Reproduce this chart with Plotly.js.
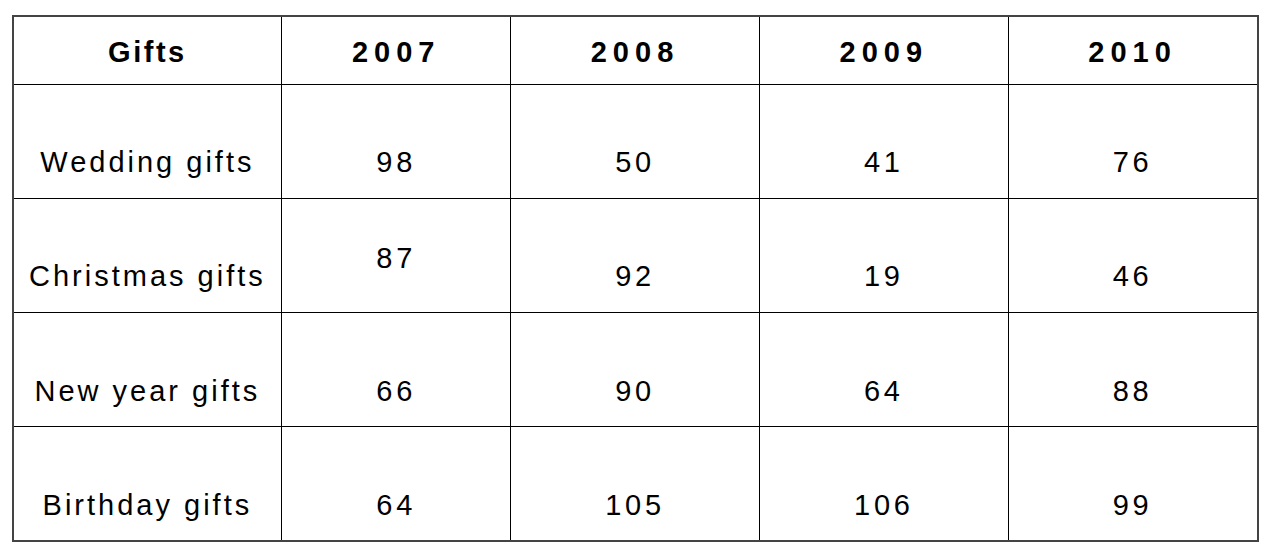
<!DOCTYPE html>
<html>
<head>
<meta charset="utf-8">
<script src="https://cdn.plot.ly/plotly-3.0.1.min.js"></script>
<style>
  html, body { margin: 0; padding: 0; background: #fff; }
  #chart { width: 1277px; height: 560px; }
</style>
</head>
<body>
<div id="chart"></div>
<script>
// ---- data ----
var headerLabels = ['Gifts', '2007', '2008', '2009', '2010'];
var giftTypes = ['Wedding gifts', 'Christmas gifts', 'New year gifts', 'Birthday gifts'];
var values2007 = [98, 87, 66, 64];
var values2008 = [50, 92, 90, 105];
var values2009 = [41, 19, 64, 106];
var values2010 = [76, 46, 88, 99];

// ---- styling helpers ----
var BASE = 2;            // base font size of the cell (line step = 1.3*BASE)
var TEXT_SIZE = 29;
function styled(txt, breaks, spacing) {
  var pre = '&nbsp;';
  for (var i = 0; i < breaks; i++) pre += '<br>';
  return pre + '<span style="font-size:' + TEXT_SIZE + 'px;letter-spacing:' + spacing + 'px;">' + txt + '</span>';
}
var HEADER_BREAKS = 14;
var BODY_BREAKS = 30;

var columns = [giftTypes, values2007, values2008, values2009, values2010];
var cellText = columns.map(function (col, ci) {
  return col.map(function (v, ri) {
    var b = BODY_BREAKS;
    if (ci === 1 && ri === 1) b = 23; // the raised "87" in the source
    return styled(String(v), b, ci === 0 ? 3 : 3.7);
  });
});
var headText = headerLabels.map(function (h, i) {
  return '<b>' + styled(h, HEADER_BREAKS, i === 0 ? 2.5 : 6) + '</b>';
});

var FONT = 'Liberation Sans, Arial, sans-serif';
var trace = {
  type: 'table',
  domain: { x: [13 / 1277, 1258 / 1277], y: [1 - 541 / 560, 1 - 16 / 560] },
  columnwidth: [269, 229, 249, 249, 249],
  header: {
    values: headText,
    align: 'center',
    height: 68,
    fill: { color: '#ffffff' },
    line: { color: '#000000', width: 1 },
    font: { family: FONT, size: BASE, color: '#000000' }
  },
  cells: {
    values: cellText,
    align: 'center',
    height: 114.25,
    fill: { color: '#ffffff' },
    line: { color: '#000000', width: 1 },
    font: { family: FONT, size: BASE, color: '#000000' }
  }
};

var layout = {
  width: 1277,
  height: 560,
  margin: { l: 0, r: 0, t: 0, b: 0 },
  paper_bgcolor: '#ffffff',
  shapes: [{
    type: 'rect', xref: 'paper', yref: 'paper',
    x0: 13 / 1277, x1: 1258 / 1277, y0: 1 - 541 / 560, y1: 1 - 16 / 560,
    line: { color: '#444444', width: 2 }
  }]
};

Plotly.newPlot('chart', [trace], layout, { displayModeBar: false, staticPlot: true });
</script>
</body>
</html>
